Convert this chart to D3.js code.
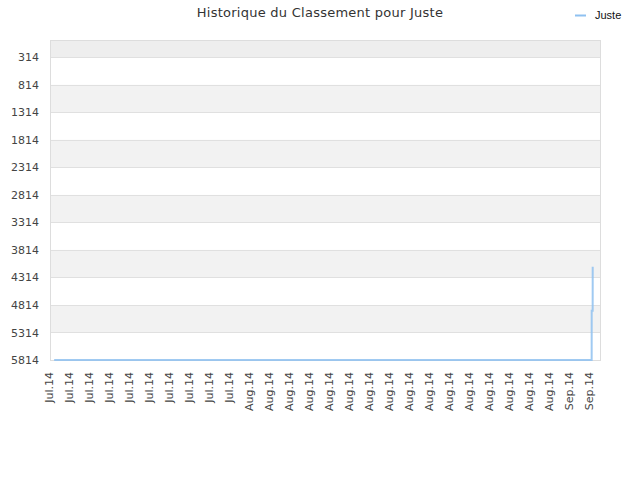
<!DOCTYPE html>
<html>
<head>
<meta charset="utf-8">
<script src="https://cdn.jsdelivr.net/npm/d3@7"></script>
<style>
  html, body { margin: 0; padding: 0; background: #fff; }
  svg { display: block; }
</style>
</head>
<body>
<svg id="chart" width="640" height="480"></svg>
<script>
// ---- data ----
const seriesName = "Juste";
const dates = [
  "2014-07-12T10:00", "2014-07-16T00:00", "2014-07-20T00:00", "2014-07-24T00:00",
  "2014-07-28T00:00", "2014-08-01T00:00", "2014-08-05T00:00", "2014-08-09T00:00",
  "2014-08-13T00:00", "2014-08-17T00:00", "2014-08-21T00:00", "2014-08-25T00:00",
  "2014-08-29T00:00", "2014-09-02T00:00", "2014-09-04T04:00", "2014-09-04T04:05",
  "2014-09-04T06:25", "2014-09-04T06:30"
];
const ranks = [
  5814, 5814, 5814, 5814,
  5814, 5814, 5814, 5814,
  5814, 5814, 5814, 5814,
  5814, 5814, 5814, 4918,
  4918, 4119
];
const yTicks = [314, 814, 1314, 1814, 2314, 2814, 3314, 3814, 4314, 4814, 5314, 5814];
const xTickDates = [
  "2014-07-12", "2014-07-14", "2014-07-16", "2014-07-18", "2014-07-20",
  "2014-07-22", "2014-07-24", "2014-07-26", "2014-07-28", "2014-07-30",
  "2014-08-01", "2014-08-03", "2014-08-05", "2014-08-07", "2014-08-09",
  "2014-08-11", "2014-08-13", "2014-08-15", "2014-08-17", "2014-08-19",
  "2014-08-21", "2014-08-23", "2014-08-25", "2014-08-27", "2014-08-29",
  "2014-08-31", "2014-09-02", "2014-09-04"
];
const xDomain = ["2014-07-12", "2014-09-05"];
const yDomain = [0, 5814];

// ---- layout ----
const svg = d3.select("#chart");
const margin = { left: 50, right: 40, top: 40, bottom: 120 };
const W = 640, H = 480;
const iw = W - margin.left - margin.right;
const ih = H - margin.top - margin.bottom;
const parseT = d3.isoParse;
const parseD = d3.timeParse("%Y-%m-%d");

const x = d3.scaleTime().domain(xDomain.map(parseD)).range([0, iw]);
const y = d3.scaleLinear().domain(yDomain).range([0, ih]);

const g = svg.append("g").attr("transform", `translate(${margin.left},${margin.top})`);

// alternating bands
const bandEdges = [yDomain[0]].concat(yTicks);
for (let i = 0; i < bandEdges.length - 1; i++) {
  if (i % 2 === 0) {
    g.append("rect")
      .attr("x", 0).attr("width", iw)
      .attr("y", y(bandEdges[i]))
      .attr("height", y(bandEdges[i + 1]) - y(bandEdges[i]))
      .attr("fill", i === 0 ? "#eeeeee" : "#f2f2f2");
  }
}

// gridlines
g.append("g").selectAll("line").data(yTicks).join("line")
  .attr("x1", 0).attr("x2", iw)
  .attr("y1", d => Math.round(y(d)) + 0.5).attr("y2", d => Math.round(y(d)) + 0.5)
  .attr("stroke", "#e0e0e0").attr("stroke-width", 1);

// y axis labels
const yAxis = d3.axisLeft(y).tickValues(yTicks).tickSize(0).tickPadding(11).tickFormat(d3.format("d"));
const ya = g.append("g").call(yAxis);
ya.select(".domain").remove();
ya.selectAll("text").attr("fill", "#444").style("font-family", "DejaVu Sans, sans-serif").style("font-size", "11px");

// x axis labels
const fmt = d3.timeFormat("%b.%y");
const xAxis = d3.axisBottom(x).tickValues(xTickDates.map(parseD)).tickSize(0).tickFormat(fmt);
const xa = g.append("g").attr("transform", `translate(0,${ih})`).call(xAxis);
xa.select(".domain").remove();
xa.selectAll("text")
  .attr("fill", "#444")
  .style("font-family", "DejaVu Sans, sans-serif").style("font-size", "11px")
  .attr("text-anchor", "end")
  .attr("transform", "rotate(-90)")
  .attr("x", -12).attr("y", -1).attr("dy", "0.32em");

// plot border
g.append("rect").attr("x", 0.5).attr("y", 0.5).attr("width", iw).attr("height", ih)
  .attr("fill", "none").attr("stroke", "#dddddd").attr("stroke-width", 1);

// line
const pts = dates.map((d, i) => ({ t: parseT(d), v: ranks[i] }));
const line = d3.line().x(d => x(d.t)).y(d => y(d.v));
g.append("path").datum(pts)
  .attr("d", line)
  .attr("fill", "none")
  .attr("stroke", "#8fc1f0")
  .attr("stroke-opacity", 0.85)
  .attr("stroke-width", 2);

// title
svg.append("text")
  .attr("x", 320).attr("y", 17)
  .attr("text-anchor", "middle")
  .attr("fill", "#333")
  .style("font-family", "DejaVu Sans, sans-serif").style("font-size", "13px")
  .style("letter-spacing", "0.25px")
  .text("Historique du Classement pour " + seriesName);

// legend
svg.append("line").attr("x1", 575).attr("x2", 586).attr("y1", 15.5).attr("y2", 15.5)
  .attr("stroke", "#8fc1f0").attr("stroke-width", 2);
svg.append("text").attr("x", 595).attr("y", 19)
  .attr("fill", "#111")
  .style("font-family", "Liberation Sans Narrow, Liberation Sans, sans-serif").style("font-size", "11px")
  .text(seriesName);
</script>
</body>
</html>
